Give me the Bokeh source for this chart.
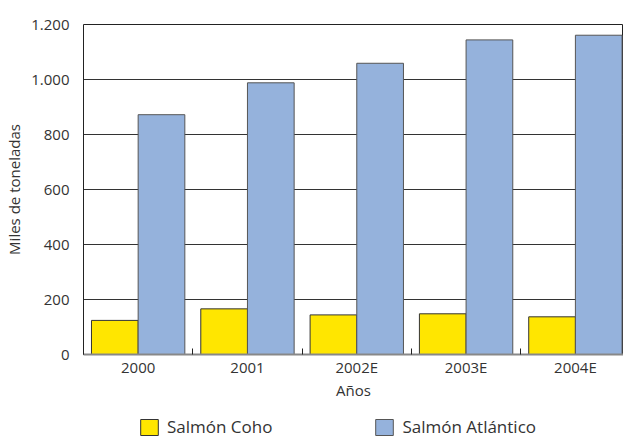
import numpy as np
from bokeh.plotting import figure
from bokeh.layouts import column
from bokeh.models import (Range1d, FixedTicker, Legend, LegendItem,
                          CustomJSTickFormatter)
from bokeh.embed import file_html
from bokeh.resources import INLINE

years = ["2000", "2001", "2002E", "2003E", "2004E"]
coho = [124, 166, 144, 148, 137]
atlantico = [872, 988, 1059, 1144, 1161]
y_ticks = [0, 200, 400, 600, 800, 1000, 1200]
y_tick_labels = ["0", "200", "400", "600", "800", "1.000", "1.200"]
series_names = ["Salmón Coho", "Salmón Atlántico"]
colors = ["#FFE600", "#95B2DC"]
edge_colors = ["#333333", "#555555"]

FONT = "Open Sans"
TXT = "#333333"

centers = np.arange(len(years)) + 0.5
bw = 0.427

p = figure(width=623, height=404, output_backend="svg", toolbar_location=None,
           x_range=Range1d(0, 4.94), y_range=Range1d(0, 1200),
           min_border_left=83, min_border_top=24, min_border_bottom=50,
           min_border_right=0)
p.background_fill_color = "white"
p.border_fill_color = "white"
p.outline_line_color = "#222222"
p.outline_line_width = 1

r1 = p.vbar(x=centers - bw / 2, top=coho, bottom=0, width=bw,
            fill_color=colors[0], line_color=edge_colors[0], line_width=1)
r2 = p.vbar(x=centers + bw / 2, top=atlantico, bottom=0, width=bw,
            fill_color=colors[1], line_color=edge_colors[1], line_width=1)

# x axis
xa = p.xaxis[0]
xa.ticker = FixedTicker(ticks=list(centers),
                        minor_ticks=list(range(len(years) + 1)))
xa.formatter = CustomJSTickFormatter(args=dict(xlabs=years),
                                     code="return xlabs[Math.floor(tick)];")
xa.major_tick_line_color = None
xa.major_tick_in = 0
xa.major_tick_out = 0
xa.minor_tick_in = 6
xa.minor_tick_out = 0
xa.minor_tick_line_color = "#222222"
xa.axis_line_color = "#888888"
xa.axis_line_width = 2
xa.major_label_text_font = FONT
xa.major_label_text_font_size = "15px"
xa.major_label_text_color = TXT
xa.major_label_standoff = 2
xa.axis_label = "Años"
xa.axis_label_text_font = FONT
xa.axis_label_text_font_size = "15px"
xa.axis_label_text_font_style = "normal"
xa.axis_label_text_color = TXT
xa.axis_label_standoff = 0

# y axis
ya = p.yaxis[0]
ya.ticker = FixedTicker(ticks=y_ticks)
ya.formatter = CustomJSTickFormatter(args=dict(yvals=y_ticks, ylabs=y_tick_labels),
                                     code="return ylabs[yvals.indexOf(tick)];")
ya.axis_line_color = None
ya.major_tick_line_color = None
ya.major_tick_in = 0
ya.major_tick_out = 0
ya.minor_tick_line_color = None
ya.major_label_standoff = 14
ya.major_label_text_font = FONT
ya.major_label_text_font_size = "15px"
ya.major_label_text_color = TXT
ya.axis_label = "Miles de toneladas"
ya.axis_label_text_font = FONT
ya.axis_label_text_font_size = "15px"
ya.axis_label_text_font_style = "normal"
ya.axis_label_text_color = TXT
ya.axis_label_standoff = 4

p.xgrid.visible = False
p.ygrid.ticker = FixedTicker(ticks=y_ticks)
p.ygrid.grid_line_color = "#333333"
p.ygrid.grid_line_width = 1

# legend strip below the chart (no axes, so its frame fills the strip)
lg = figure(width=623, height=34, output_backend="svg", toolbar_location=None,
            x_range=Range1d(0, 1), y_range=Range1d(0, 1),
            x_axis_location=None, y_axis_location=None,
            min_border_left=83, min_border_right=0, min_border_top=0,
            min_border_bottom=0)
lg.grid.visible = False
lg.outline_line_color = None
lg.background_fill_color = "white"
lg.border_fill_color = "white"
# swatch renderers: one point each, placed outside the strip's visible range
l1 = lg.vbar(x=[-10], top=[-10], bottom=[-11], width=0.1, fill_color=colors[0],
             line_color=edge_colors[0], line_width=1)
l2 = lg.vbar(x=[-10], top=[-10], bottom=[-11], width=0.1, fill_color=colors[1],
             line_color=edge_colors[1], line_width=1)
legend = Legend(items=[LegendItem(label=series_names[0], renderers=[l1]),
                       LegendItem(label=series_names[1], renderers=[l2])],
                orientation="horizontal", location=(55, 0),
                glyph_width=22, glyph_height=20, label_standoff=7,
                spacing=101, padding=0, margin=0,
                border_line_color=None, background_fill_alpha=0,
                label_text_font=FONT, label_text_font_size="17px",
                label_text_color=TXT)
lg.add_layout(legend, "center")

layout = column(p, lg, spacing=0)
open("out.html", "w").write(file_html(layout, INLINE))
